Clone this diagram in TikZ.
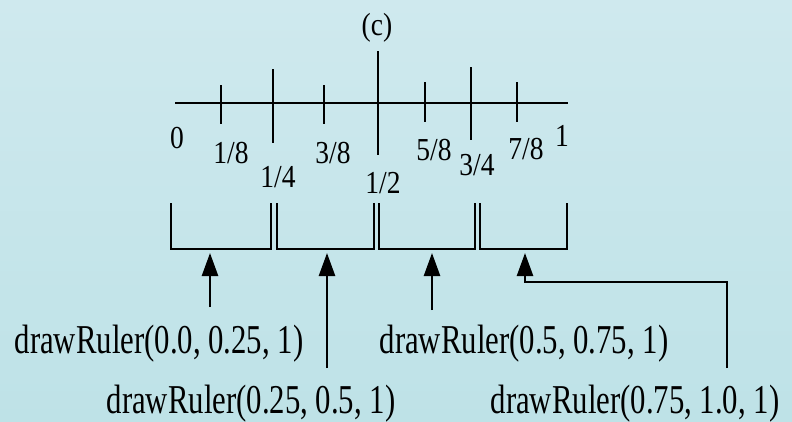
\documentclass[tikz,border=0pt]{standalone}
\usepackage{fontspec}
\usepackage{xcolor}
\usetikzlibrary{arrows.meta}
\newfontfamily\fracfont{Liberation Serif}[FakeStretch=0.86]
\newfontfamily\callfont{Liberation Serif}[FakeStretch=0.75]
\definecolor{bgtop}{RGB}{207,233,238}
\definecolor{bgbot}{RGB}{190,226,231}
\tikzset{
  rule/.style={line width=2.9pt},
  callarrow/.style={line width=2.5pt,-{Triangle[length=23pt,width=16pt]}},
  fraclbl/.style={inner sep=0pt,font=\fracfont\fontsize{32}{32}\selectfont},
  calllbl/.style={inner sep=0pt,anchor=base,font=\callfont\fontsize{41}{41}\selectfont}
}
\begin{document}
\begin{tikzpicture}[x=1pt,y=-1pt]
\shade[top color=bgtop,bottom color=bgbot] (0,0) rectangle (792,421);
\useasboundingbox (0,0) rectangle (792,421);
\node[fraclbl] (title) at (377,28) {(c)};
\draw[rule] (175,103) -- (568,103);
\foreach \tx/\ta/\tb in {221/85/124,273/69/143,324/85/124,378/51/155,425/82/122,471/67/140,517/82/122}
  \draw[rule] (\tx,\ta) -- (\tx,\tb);
\node[fraclbl] (f0) at (177,138) {0};
\node[fraclbl] (f18) at (231,153) {1/8};
\node[fraclbl] (f14) at (278,177) {1/4};
\node[fraclbl] (f38) at (333,153) {3/8};
\node[fraclbl] (f12) at (383,183) {1/2};
\node[fraclbl] (f58) at (434,150) {5/8};
\node[fraclbl] (f34) at (477,165) {3/4};
\node[fraclbl] (f78) at (526,149) {7/8};
\node[fraclbl] (f1) at (562,136) {1};
\foreach \bl/\br in {171/271,277/374,379/475,480/567}
  \draw[rule] (\bl,203) -- (\bl,249) -- (\br,249) -- (\br,203);
\coordinate (tip1) at (210,253);
\coordinate (tip2) at (327,253);
\coordinate (tip3) at (432,253);
\coordinate (tip4) at (525,253);
\coordinate (tail1) at (210,307);
\coordinate (tail2) at (327,368);
\coordinate (tail3) at (432,310);
\coordinate (tail4) at (727,368);
\coordinate (bend4) at (525,282);
\node[calllbl] (call1) at (159,353) {drawRuler(0.0, 0.25, 1)};
\node[calllbl] (call2) at (251,413) {drawRuler(0.25, 0.5, 1)};
\node[calllbl] (call3) at (524,353) {drawRuler(0.5, 0.75, 1)};
\node[calllbl] (call4) at (635,413) {drawRuler(0.75, 1.0, 1)};
\draw[callarrow] (tail1) -- (tip1);
\draw[callarrow] (tail2) -- (tip2);
\draw[callarrow] (tail3) -- (tip3);
\draw[callarrow] (tail4) |- (bend4) -- (tip4);
\end{tikzpicture}
\end{document}
